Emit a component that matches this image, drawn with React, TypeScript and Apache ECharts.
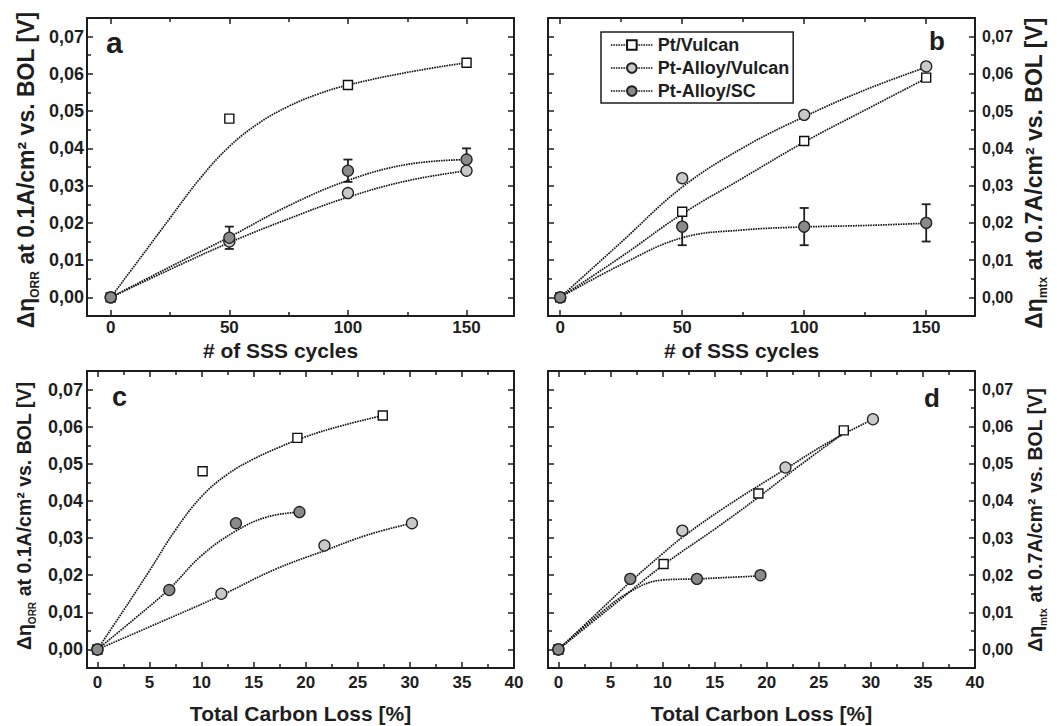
import React, { useEffect, useRef } from 'react';
import * as echarts from 'echarts';

const FONT = '"Liberation Sans", Arial, Helvetica, sans-serif';
const INK = '#1e1e1e';

// ---------- tick values ----------
const cycleTicks = [0, 50, 100, 150];
const cycleMinorTicks = [25, 75, 125];
const lossTicks = [0, 5, 10, 15, 20, 25, 30, 35, 40];
const lossMinorTicks = [2.5, 7.5, 12.5, 17.5, 22.5, 27.5, 32.5, 37.5];
const voltTicks = [0, 0.01, 0.02, 0.03, 0.04, 0.05, 0.06, 0.07];
const voltMinorTicks = [0.005, 0.015, 0.025, 0.035, 0.045, 0.055, 0.065];

// ---------- measured data ----------
const seriesNames = ['Pt/Vulcan', 'Pt-Alloy/Vulcan', 'Pt-Alloy/SC'];
const cycles = [0, 50, 100, 150];
// ORR overpotential increase (panels a, c)
const orrPtVulcan = [0, 0.048, 0.057, 0.063];
const orrAlloyVulcan = [0, 0.015, 0.028, 0.034];
const orrAlloySC = [0, 0.016, 0.034, 0.037];
const orrAlloySCErr = [0, 0.003, 0.003, 0.003];
// mass-transport overpotential increase (panels b, d)
const mtxPtVulcan = [0, 0.023, 0.042, 0.059];
const mtxAlloyVulcan = [0, 0.032, 0.049, 0.062];
const mtxAlloySC = [0, 0.019, 0.019, 0.02];
const mtxAlloySCErr = [0, 0.005, 0.005, 0.005];
// total carbon loss [%] at 0/50/100/150 cycles
const lossPtVulcan = [0, 10.1, 19.2, 27.4];
const lossAlloyVulcan = [0, 11.9, 21.8, 30.2];
const lossAlloySC = [0, 6.9, 13.3, 19.4];

// ---------- fitted guide curves ----------
const fitAPtX = [0, 12.5, 25, 37.5, 50, 62.5, 75, 87.5, 100, 125, 150];
const fitAPtY = [0, 0.0106, 0.0213, 0.0318, 0.0405, 0.0468, 0.0513, 0.0546, 0.057, 0.0604, 0.063];
const fitAAVX = [0, 25, 50, 75, 100, 125, 150];
const fitAAVY = [0, 0.0075, 0.0147, 0.0211, 0.0269, 0.0313, 0.034];
const fitASCX = [0, 25, 50, 75, 100, 125, 150];
const fitASCY = [0, 0.0082, 0.0162, 0.0246, 0.0314, 0.0357, 0.037];

const fitBPtX = [0, 25, 50, 75, 100, 125, 150];
const fitBPtY = [0, 0.0109, 0.0224, 0.0321, 0.0417, 0.0503, 0.0588];
const fitBAVX = [0, 25, 50, 75, 100, 125, 150];
const fitBAVY = [0, 0.0148, 0.0296, 0.0402, 0.0485, 0.0557, 0.0618];
const fitBSCX = [0, 25, 50, 75, 100, 125, 150];
const fitBSCY = [0, 0.0088, 0.016, 0.0181, 0.0189, 0.0193, 0.0199];

const fitCPtX = [0, 2.5, 5, 7.5, 10, 12.5, 15, 17.5, 20, 23.5, 27.4];
const fitCPtY = [0, 0.0105, 0.0212, 0.0322, 0.0412, 0.0472, 0.0513, 0.0545, 0.0573, 0.0603, 0.063];
const fitCAVX = [0, 6, 11.9, 17, 21.8, 26, 30.2];
const fitCAVY = [0, 0.0073, 0.0146, 0.0215, 0.0266, 0.0309, 0.034];
const fitCSCX = [0, 3.5, 6.9, 10, 13.3, 16.3, 19.4];
const fitCSCY = [0, 0.0081, 0.0163, 0.0253, 0.0319, 0.0357, 0.037];

const fitDPtX = [0, 5, 10.1, 15, 19.2, 23, 27.4];
const fitDPtY = [0, 0.0113, 0.0228, 0.0324, 0.041, 0.0492, 0.0583];
const fitDAVX = [0, 3.5, 6.9, 10, 11.9, 16, 21.8, 26, 30.2];
const fitDAVY = [0, 0.0092, 0.0182, 0.0258, 0.0302, 0.0383, 0.0486, 0.0559, 0.062];
const fitDSCX = [0, 3.5, 6.9, 10, 13.3, 16.3, 19.4];
const fitDSCY = [0, 0.0085, 0.0156, 0.0187, 0.019, 0.0194, 0.0198];

const zip = (xs: number[], ys: number[]) => xs.map((x, i) => [x, ys[i]]);

const markerStyles: any[] = [
  { symbol: 'rect', symbolSize: 9, itemStyle: { color: '#ffffff', borderColor: '#111', borderWidth: 1.4 } },
  { symbol: 'circle', symbolSize: 11, itemStyle: { color: '#c9c9c9', borderColor: '#222', borderWidth: 1.3 } },
  { symbol: 'circle', symbolSize: 11, itemStyle: { color: '#8a8a8a', borderColor: '#222', borderWidth: 1.3 } },
];

const yNameORR = '{m|Δη}{s|ORR}{m| at 0.1A/cm² vs. BOL [V]}';
const yNameMTX = '{m|Δη}{s|mtx}{m| at 0.7A/cm² vs. BOL [V]}';

const FIT_LINE = { color: '#151515', width: 1.7, type: [1.6, 0.9] };

function buildOption() {
  const panels = [
    {
      left: 87, top: 18, w: 427, h: 298, xMin: -10, xMax: 170, xT: cycleTicks, xm: cycleMinorTicks,
      right: false, yLab: 18, yMargin: 3, xMargin: 3, xName: '# of SSS cycles', xGap: 24, xPad: [0, 40, 0, 0],
      markers: [zip(cycles, orrPtVulcan), zip(cycles, orrAlloyVulcan), zip(cycles, orrAlloySC)],
      fits: [zip(fitAPtX, fitAPtY), zip(fitAAVX, fitAAVY), zip(fitASCX, fitASCY)],
      err: cycles.map((c, i) => [c, orrAlloySC[i] - orrAlloySCErr[i], orrAlloySC[i] + orrAlloySCErr[i], orrAlloySCErr[i]]).filter((d) => d[3] > 0),
    },
    {
      left: 548, top: 18, w: 427, h: 298, xMin: -5, xMax: 170, xT: cycleTicks, xm: cycleMinorTicks,
      right: true, yLab: 16, yMargin: 7, xMargin: 3, xName: '# of SSS cycles', xGap: 24, xPad: [0, 40, 0, 0],
      markers: [zip(cycles, mtxPtVulcan), zip(cycles, mtxAlloyVulcan), zip(cycles, mtxAlloySC)],
      fits: [zip(fitBPtX, fitBPtY), zip(fitBAVX, fitBAVY), zip(fitBSCX, fitBSCY)],
      err: cycles.map((c, i) => [c, mtxAlloySC[i] - mtxAlloySCErr[i], mtxAlloySC[i] + mtxAlloySCErr[i], mtxAlloySCErr[i]]).filter((d) => d[3] > 0),
    },
    {
      left: 87, top: 371, w: 427, h: 297, xMin: -1, xMax: 40, xT: lossTicks, xm: lossMinorTicks,
      right: false, yLab: 18, yMargin: 4, xMargin: 6, xName: 'Total Carbon Loss [%]', xGap: 35, xPad: 0,
      markers: [zip(lossPtVulcan, orrPtVulcan), zip(lossAlloyVulcan, orrAlloyVulcan), zip(lossAlloySC, orrAlloySC)],
      fits: [zip(fitCPtX, fitCPtY), zip(fitCAVX, fitCAVY), zip(fitCSCX, fitCSCY)],
      err: [],
    },
    {
      left: 548, top: 371, w: 427, h: 297, xMin: -1, xMax: 40, xT: lossTicks, xm: lossMinorTicks,
      right: true, yLab: 16, yMargin: 7, xMargin: 6, xName: 'Total Carbon Loss [%]', xGap: 35, xPad: 0,
      markers: [zip(lossPtVulcan, mtxPtVulcan), zip(lossAlloyVulcan, mtxAlloyVulcan), zip(lossAlloySC, mtxAlloySC)],
      fits: [zip(fitDPtX, fitDPtY), zip(fitDAVX, fitDAVY), zip(fitDSCX, fitDSCY)],
      err: [],
    },
  ];

  const grid: any[] = [];
  const xAxis: any[] = [];
  const yAxis: any[] = [];
  const series: any[] = [];

  const frameLine = { show: true, onZero: false, lineStyle: { color: INK, width: 2 } };
  const tickStyle = { color: INK, width: 1.5 };
  const labelBase = { fontFamily: FONT, fontWeight: 'bold', color: INK };

  panels.forEach((p, i) => {
    const rect = { left: p.left, top: p.top, width: p.w, height: p.h };
    grid.push({ ...rect }, { ...rect });
    const g = 2 * i;
    const xBase = { type: 'value', min: p.xMin, max: p.xMax, splitLine: { show: false } };
    const yBase = { type: 'value', min: -0.005, max: 0.075, splitLine: { show: false } };
    xAxis.push({
      ...xBase, gridIndex: g, position: 'bottom',
      axisLine: frameLine,
      axisTick: { show: true, inside: true, length: 6, customValues: p.xT, lineStyle: tickStyle },
      axisLabel: { show: true, customValues: p.xT, margin: p.xMargin, fontSize: 17, ...labelBase, formatter: (v: number) => String(v) },
      name: p.xName, nameLocation: 'middle', nameGap: p.xGap,
      nameTextStyle: { fontSize: 21, ...labelBase, padding: p.xPad },
    });
    xAxis.push({
      ...xBase, gridIndex: g, position: 'top',
      axisLine: frameLine,
      axisTick: { show: true, inside: true, length: 6, customValues: p.xT, lineStyle: tickStyle },
      axisLabel: { show: false },
    });
    ['bottom', 'top'].forEach((pos) =>
      xAxis.push({
        ...xBase, gridIndex: g + 1, position: pos,
        axisLine: { show: false, onZero: false },
        axisTick: { show: true, inside: true, length: 4, customValues: p.xm, lineStyle: tickStyle },
        axisLabel: { show: false },
      })
    );
    ['left', 'right'].forEach((pos) => {
      const labelled = (pos === 'right') === p.right;
      yAxis.push({
        ...yBase, gridIndex: g, position: pos,
        axisLine: frameLine,
        axisTick: { show: true, inside: true, length: 6, customValues: voltTicks, lineStyle: tickStyle },
        axisLabel: labelled
          ? { show: true, customValues: voltTicks, margin: p.yMargin, fontSize: p.yLab, ...labelBase, formatter: (v: number) => v.toFixed(2).replace('.', ',') }
          : { show: false },
      });
    });
    ['left', 'right'].forEach((pos) =>
      yAxis.push({
        ...yBase, gridIndex: g + 1, position: pos,
        axisLine: { show: false, onZero: false },
        axisTick: { show: true, inside: true, length: 4, customValues: voltMinorTicks, lineStyle: tickStyle },
        axisLabel: { show: false },
      })
    );

    const xi = 4 * i;
    const yi = 4 * i;
    p.fits.forEach((f) =>
      series.push({
        type: 'line', xAxisIndex: xi, yAxisIndex: yi, data: f, smooth: 0.4, symbol: 'none', silent: true, z: 2,
        lineStyle: FIT_LINE,
      })
    );
    if (p.err.length) {
      series.push({
        type: 'custom', xAxisIndex: xi, yAxisIndex: yi, z: 3, silent: true,
        data: p.err, encode: { x: 0, y: [1, 2] },
        renderItem: (params: any, api: any) => {
          const x = api.value(0);
          const lo = api.coord([x, api.value(1)]);
          const hi = api.coord([x, api.value(2)]);
          const hw = 4.5;
          const st = { stroke: INK, lineWidth: 1.8 };
          return {
            type: 'group',
            children: [
              { type: 'line', shape: { x1: lo[0], y1: lo[1], x2: hi[0], y2: hi[1] }, style: st },
              { type: 'line', shape: { x1: lo[0] - hw, y1: lo[1], x2: lo[0] + hw, y2: lo[1] }, style: st },
              { type: 'line', shape: { x1: hi[0] - hw, y1: hi[1], x2: hi[0] + hw, y2: hi[1] }, style: st },
            ],
          };
        },
      });
    }
    p.markers.forEach((m, k) =>
      series.push({
        type: 'line', name: seriesNames[k], xAxisIndex: xi, yAxisIndex: yi, data: m, z: 4,
        ...markerStyles[k], showSymbol: true,
        lineStyle: { width: 0, opacity: 0 },
        emphasis: { disabled: true },
      })
    );
  });

  const richFor = (size: number, sub: number) => ({
    m: { fontSize: size, fontWeight: 'bold', fontFamily: FONT, fill: INK, lineHeight: size + 7, verticalAlign: 'middle' },
    s: { fontSize: sub, fontWeight: 'bold', fontFamily: FONT, fill: INK, lineHeight: sub + 2, verticalAlign: 'bottom' },
  });

  const yTitle = (text: string, x: number, y: number, size: number, sub: number) => ({
    type: 'text', x, y, rotation: Math.PI / 2, silent: true,
    style: { text, align: 'center', verticalAlign: 'middle', fill: INK, rich: richFor(size, sub) },
  });
  const letter = (t: string, x: number, y: number, size: number) => ({
    type: 'text', x, y, silent: true, z: 10,
    style: { text: t, fontSize: size, fontWeight: 'bold', fontFamily: FONT, fill: INK, align: 'left', verticalAlign: 'middle' },
  });

  return {
    animation: false,
    backgroundColor: '#ffffff',
    grid,
    xAxis,
    yAxis,
    series,
    legend: {
      orient: 'vertical', left: 601, top: 32, selectedMode: false,
      data: seriesNames,
      itemWidth: 42, itemHeight: 12, itemGap: 5,
      padding: [4, 4, 3, 9],
      borderColor: INK, borderWidth: 1.5, backgroundColor: '#ffffff',
      textStyle: { fontSize: 18, fontWeight: 'bold', fontFamily: FONT, color: INK },
      lineStyle: { ...FIT_LINE, opacity: 1 },
    },
    graphic: [
      yTitle(yNameORR, 26, 170, 23, 12),
      yTitle(yNameMTX, 1034, 173, 23, 12),
      yTitle(yNameORR, 24, 516, 19.5, 10),
      yTitle(yNameMTX, 1035, 520, 19.5, 10),
      letter('a', 106, 42, 30),
      letter('b', 929, 41, 26),
      letter('c', 112, 397, 27),
      letter('d', 924, 398, 26),
    ],
  };
}

export default function App() {
  const ref = useRef<HTMLDivElement>(null);
  useEffect(() => {
    if (!ref.current) return;
    const chart = echarts.init(ref.current, null, { renderer: 'svg' });
    chart.setOption(buildOption() as any);
    return () => chart.dispose();
  }, []);
  return (
    <div
      ref={ref}
      style={{ position: 'fixed', left: 0, top: 0, width: 1057, height: 726, background: '#ffffff' }}
    />
  );
}
